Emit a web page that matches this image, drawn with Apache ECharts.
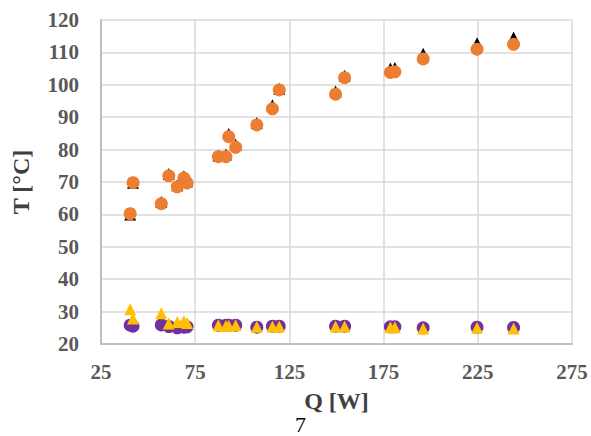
<!DOCTYPE html>
<html>
<head>
<meta charset="utf-8">
<script src="https://cdn.jsdelivr.net/npm/echarts@6/dist/echarts.min.js"></script>
<style>
  html, body { margin: 0; padding: 0; background: #fff; }
  #chart { width: 591px; height: 436px; }
</style>
</head>
<body>
<div id="chart"></div>
<script>
var qValues = [40.5, 42, 57, 61, 65.5, 69, 70.7, 87.3, 91.3, 92.8, 96.5, 107.7, 116, 119.6, 149.5, 154.3, 178.6, 181, 196, 224.6, 244];
var blackT = [60.0, 69.8, 63.8, 72.5, 69.0, 71.8, 70.2, 78.2, 78.5, 84.8, 81.5, 88.2, 93.7, 98.8, 97.9, 102.8, 105.0, 105.2, 109.6, 112.8, 114.6];
var orangeT = [60.2, 69.8, 63.3, 71.9, 68.5, 71.2, 69.7, 77.8, 77.8, 84.0, 80.7, 87.6, 92.6, 98.4, 97.1, 102.2, 103.8, 104.0, 108.0, 111.0, 112.5];
var purpleT = [25.8, 25.5, 25.9, 25.4, 25.0, 25.2, 25.3, 25.8, 25.8, 25.8, 25.8, 25.2, 25.5, 25.5, 25.5, 25.5, 25.3, 25.3, 25.0, 25.2, 25.1];
var yellowT = [30.7, 27.9, 29.5, 26.3, 26.8, 27.0, 26.5, 25.8, 25.6, 25.6, 25.8, 25.3, 25.4, 25.4, 25.4, 25.4, 25.2, 25.2, 24.8, 25.0, 24.8];
var xTicks = [25, 275, 50];
var yTicks = [20, 120, 10];

function pairs(ys) {
  return qValues.map(function (q, i) { return [q, ys[i]]; });
}

var serif = '"Liberation Serif", "Times New Roman", serif';
var labelGray = '#595959';
var nameGray = '#404040';
var chart = echarts.init(document.getElementById('chart'), null, { renderer: 'svg' });
chart.setOption({
  animation: false,
  title: {
    text: '7',
    left: 295,
    top: 414,
    padding: 0,
    textStyle: { fontFamily: serif, fontSize: 22, lineHeight: 20, fontWeight: 'normal', color: '#000' }
  },
  grid: { left: 101, right: 19, top: 20, bottom: 92, containLabel: false },
  xAxis: {
    type: 'value',
    min: xTicks[0],
    max: xTicks[1],
    interval: xTicks[2],
    name: 'Q [W]',
    nameLocation: 'middle',
    nameGap: 45,
    nameTextStyle: { fontFamily: serif, fontSize: 24, lineHeight: 24, fontWeight: 'bold', color: nameGray },
    axisLine: { lineStyle: { color: '#BFBFBF', width: 2 } },
    axisTick: { show: false },
    axisLabel: { fontFamily: serif, fontSize: 21, fontWeight: 'bold', color: labelGray, margin: 17 },
    splitLine: { lineStyle: { color: '#D9D9D9', width: 1.5 } }
  },
  yAxis: {
    type: 'value',
    min: yTicks[0],
    max: yTicks[1],
    interval: yTicks[2],
    name: 'T [°C]',
    nameLocation: 'middle',
    nameGap: 68,
    nameTextStyle: { fontFamily: serif, fontSize: 24, fontWeight: 'bold', color: nameGray },
    axisLine: { show: true, lineStyle: { color: '#BFBFBF', width: 2 } },
    axisTick: { show: false },
    axisLabel: { fontFamily: serif, fontSize: 21, fontWeight: 'bold', color: labelGray, margin: 22 },
    splitLine: { lineStyle: { color: '#D9D9D9', width: 1.5 } }
  },
  series: [
    {
      type: 'scatter',
      data: pairs(blackT),
      symbol: 'triangle',
      symbolSize: 12,
      itemStyle: { color: '#000000', opacity: 1 }
    },
    {
      type: 'scatter',
      data: pairs(orangeT),
      symbol: 'circle',
      symbolSize: 13,
      itemStyle: { color: '#ED7D31', opacity: 1 }
    },
    {
      type: 'scatter',
      data: pairs(purpleT),
      symbol: 'circle',
      symbolSize: 13,
      itemStyle: { color: '#7030A0', opacity: 1 }
    },
    {
      type: 'scatter',
      data: pairs(yellowT),
      symbol: 'triangle',
      symbolSize: 12,
      itemStyle: { color: '#FFC000', opacity: 1 }
    }
  ]
});
window.addEventListener('resize', function () { chart.resize(); });
</script>
</body>
</html>
